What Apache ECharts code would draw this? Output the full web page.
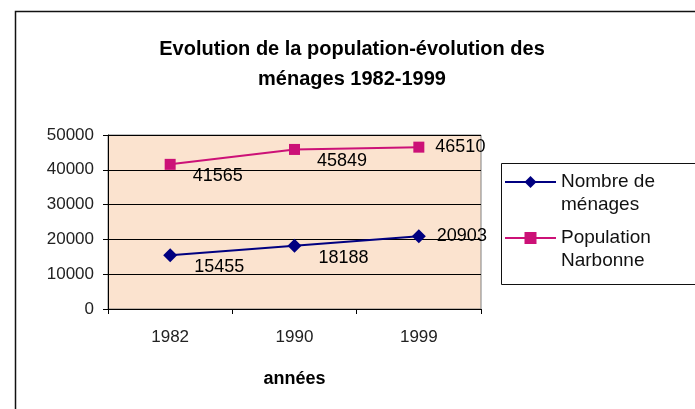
<!DOCTYPE html>
<html>
<head>
<meta charset="utf-8">
<script src="https://cdn.jsdelivr.net/npm/echarts@6/dist/echarts.min.js"></script>
<style>html,body{margin:0;padding:0;background:#fff}#c{width:695px;height:409px}</style>
</head>
<body>
<div id="c"></div>
<script>
var years = ['1982', '1990', '1999'];
var menages = [15455, 18188, 20903];
var population = [41565, 45849, 46510];
var yTicks = [0, 10000, 20000, 30000, 40000, 50000];
var seriesNames = ['Nombre de\nménages', 'Population\nNarbonne'];
var labelOffsets = [[0, 12], [0, 12], [-6, 0]];

var chart = echarts.init(document.getElementById('c'), null, {renderer: 'canvas'});
var font = 'Liberation Sans, Arial, sans-serif';

function mk(vals) {
  return vals.map(function (v, i) {
    return {value: v, label: {offset: labelOffsets[i]}};
  });
}

chart.setOption({
  animation: false,
  backgroundColor: '#ffffff',
  textStyle: {fontFamily: font},
  title: {
    text: 'Evolution de la population-évolution des\nménages 1982-1999',
    left: 347, top: 29, textAlign: 'center',
    textStyle: {fontFamily: font, fontSize: 20, fontWeight: 'bold', color: '#000', lineHeight: 30}
  },
  graphic: [
    {type: 'rect', shape: {x: 15.5, y: 11.5, width: 700, height: 420}, style: {fill: null, stroke: '#111', lineWidth: 1.5}, z: 0},
    {type: 'rect', shape: {x: 501.5, y: 163.5, width: 250, height: 121}, style: {fill: '#fff', stroke: '#111', lineWidth: 1}, z: 1}
  ],
  legend: {
    orient: 'vertical',
    left: 504, top: 147.5,
    padding: 0,
    itemGap: -13,
    itemWidth: 51, itemHeight: 15,
    itemStyle: {borderWidth: 0},
    formatter: function (name) { return '\n' + name; },
    textStyle: {fontFamily: font, fontSize: 19, color: '#111', lineHeight: 23},
    data: seriesNames,
    z: 5
  },
  grid: {
    left: 108, top: 135, width: 373, height: 174,
    show: true, backgroundColor: '#FBE3CF', borderColor: '#808080', borderWidth: 1
  },
  xAxis: {
    type: 'category',
    data: years,
    boundaryGap: true,
    axisLine: {lineStyle: {color: '#000', width: 1}},
    axisTick: {show: true, length: 5, lineStyle: {color: '#000'}},
    axisLabel: {margin: 20, fontSize: 17, color: '#222', fontFamily: font},
    name: 'années',
    nameLocation: 'middle',
    nameGap: 61,
    nameTextStyle: {fontSize: 18, fontWeight: 'bold', color: '#000', fontFamily: font}
  },
  yAxis: {
    type: 'value',
    min: yTicks[0], max: yTicks[yTicks.length - 1], interval: yTicks[1] - yTicks[0],
    axisLine: {show: true, lineStyle: {color: '#000', width: 1}},
    axisTick: {show: true, length: 5, lineStyle: {color: '#000'}},
    axisLabel: {margin: 14, fontSize: 17, color: '#222', fontFamily: font, formatter: function (v) { return String(v); }},
    splitLine: {show: true, lineStyle: {color: '#000', width: 1}}
  },
  series: [
    {
      name: seriesNames[0], type: 'line', data: mk(menages),
      symbol: 'diamond', symbolSize: 14,
      lineStyle: {color: '#000080', width: 2},
      itemStyle: {color: '#000080'},
      label: {show: true, position: 'right', distance: 17, fontSize: 18, color: '#000', fontFamily: font},
      z: 3
    },
    {
      name: seriesNames[1], type: 'line', data: mk(population),
      symbol: 'rect', symbolSize: 11,
      lineStyle: {color: '#CC1177', width: 2},
      itemStyle: {color: '#CC1177'},
      label: {show: true, position: 'right', distance: 17, fontSize: 18, color: '#000', fontFamily: font},
      z: 3
    }
  ]
});
</script>
</body>
</html>
